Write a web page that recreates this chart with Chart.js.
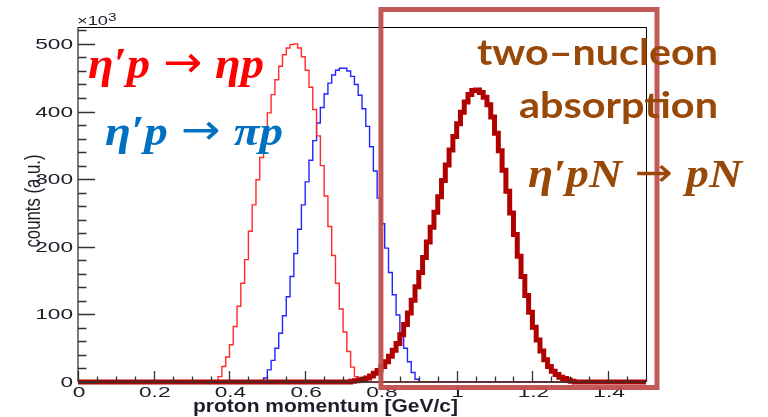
<!DOCTYPE html>
<html>
<head>
<meta charset="utf-8">
<script src="https://cdn.jsdelivr.net/npm/chart.js@4.4.1/dist/chart.umd.min.js"></script>
<style>
  html, body { margin: 0; padding: 0; background: #ffffff; }
  #wrap { width: 768px; height: 417px; position: relative; }
</style>
</head>
<body>
<div id="wrap"><canvas id="c" width="768" height="417"></canvas></div>
<script>
// Histogram binning (GeV/c) and axis ranges
const binWidth = 0.01;
const xMin = 0;
const xMax = 1.5;
const yMin = 0;
const yMax = 525;            // counts, in units of 10^3

const xMajorTicks = [0, 0.2, 0.4, 0.6, 0.8, 1.0, 1.2, 1.4];
const xTickLabels = ['0', '0.2', '0.4', '0.6', '0.8', '1', '1.2', '1.4'];
const xMinorStep = 0.05;
const yMajorTicks = [0, 100, 200, 300, 400, 500];
const yTickLabels = ['0', '100', '200', '300', '400', '500'];
const yMinorStep = 20;

// η'p → ηp : first bin lower edge and bin contents (x10^3)
const etaStart = 0.37;
const etaCounts = [8, 23, 37, 55, 82, 112, 146, 181, 223, 262, 299, 332, 363, 398, 425, 447, 467, 484, 494, 499,
                   500, 494, 481, 461, 436, 403, 364, 320, 275, 230, 187, 146, 108, 74, 45, 22, 8];

// η'p → πp
const piStart = 0.49;
const piCounts = [6, 18, 32, 50, 72, 98, 126, 156, 190, 226, 262, 296, 328, 357, 383, 406, 426, 442, 454, 461,
                  464, 464, 460, 452, 440, 424, 404, 378, 348, 312, 272, 234, 198, 162, 129, 99, 73, 50, 30, 14, 4];

// η'pN → pN (two-nucleon absorption)
const nnStart = 0.72;
const nnCounts = [1, 2, 3, 4, 6, 9, 13, 17, 23, 30, 38, 47, 57, 70, 85, 102, 121, 141, 162, 184,
                  207, 229, 251, 274, 298, 321, 343, 363, 382, 399, 414, 425, 431, 432, 428, 421, 410, 392, 368, 342,
                  313, 282, 250, 218, 186, 156, 128, 103, 81, 62, 46, 33, 23, 16, 11, 7, 5, 3, 1];

// Full-range step points: one point per bin lower edge, plus the closing edge
function histPoints(start, counts) {
  const nBins = Math.round((xMax - xMin) / binWidth);
  const first = Math.round((start - xMin) / binWidth);
  const pts = [];
  for (let i = 0; i < nBins; i++) {
    const k = i - first;
    const v = (k >= 0 && k < counts.length) ? counts[k] : 0;
    pts.push({ x: +(xMin + i * binWidth).toFixed(4), y: v });
  }
  pts.push({ x: xMax, y: 0 });
  return pts;
}

const AXIS_FONT = '"Liberation Sans", Arial, Helvetica, sans-serif';
const MATH_FONT = '"Liberation Serif", "DejaVu Serif", serif';
const NOTE_FONT = 'Lato, "Open Sans", sans-serif';
const BROWN = '#984807';
const AXIS_TEXT = '#1e1e2a';

// Draw text that is stretched to a target width (or by a fixed factor)
function drawText(ctx, str, o) {
  ctx.save();
  ctx.font = o.font;
  ctx.fillStyle = o.color || AXIS_TEXT;
  ctx.textBaseline = o.baseline || 'alphabetic';
  const w = ctx.measureText(str).width;
  const sx = o.width ? o.width / w : (o.sx || 1);
  const sy = o.sy || 1;
  ctx.translate(o.x, o.y);
  if (o.rotate) ctx.rotate(o.rotate);
  ctx.scale(sx, sy);
  let dx = 0;
  if (o.align === 'center') dx = -w / 2;
  else if (o.align === 'right') dx = -w;
  ctx.textAlign = 'left';
  ctx.fillText(str, dx, 0);
  ctx.restore();
}

// Reaction label: italic math letters with an upright arrow in the middle
function drawReaction(ctx, lhs, rhs, o) {
  ctx.save();
  const mathFont = o.weight + ' italic ' + o.size + 'px ' + MATH_FONT;
  const arrowFont = o.size + 'px "DejaVu Sans", sans-serif';
  const gap = o.size * 0.28;
  ctx.font = mathFont;
  const wl = ctx.measureText(lhs).width;
  const wr = ctx.measureText(rhs).width;
  ctx.font = arrowFont;
  const wa = ctx.measureText('\u2192').width;
  const total = wl + gap + wa + gap + wr;
  const sx = o.width / total;
  ctx.translate(o.x, o.y);
  ctx.scale(sx, 1);
  ctx.fillStyle = o.color;
  ctx.textBaseline = 'alphabetic';
  ctx.font = mathFont;
  ctx.fillText(lhs, 0, 0);
  ctx.fillText(rhs, wl + gap + wa + gap, 0);
  ctx.font = arrowFont;
  ctx.fillText('\u2192', wl + gap, -o.size * 0.02);
  ctx.restore();
}

const framePlugin = {
  id: 'rootFrame',
  beforeDatasetsDraw(chart) {
    const { ctx, chartArea: a } = chart;
    ctx.save();
    ctx.strokeStyle = '#000';
    ctx.lineWidth = 1;
    ctx.beginPath();
    ctx.moveTo(a.left, a.top + 0.5);
    ctx.lineTo(a.right + 0.5, a.top + 0.5);
    ctx.lineTo(a.right + 0.5, a.bottom);
    ctx.stroke();
    ctx.restore();
  },
  afterDatasetsDraw(chart) {
    const { ctx, chartArea: a, scales } = chart;
    const xs = scales.x, ys = scales.y;
    ctx.save();
    ctx.strokeStyle = '#333';
    ctx.lineWidth = 1.3;
    // axis lines
    ctx.beginPath();
    ctx.moveTo(a.left, a.top);
    ctx.lineTo(a.left, a.bottom);
    ctx.moveTo(a.left, a.bottom);
    ctx.lineTo(a.right, a.bottom);
    ctx.stroke();
    // y ticks (pointing inward)
    const yMajLen = 17, yMinLen = 8.5;
    ctx.beginPath();
    for (let v = yMin; v <= yMax + 1e-9; v += yMinorStep) {
      const py = Math.round(ys.getPixelForValue(v)) + 0.5;
      const major = yMajorTicks.includes(v);
      ctx.moveTo(a.left, py);
      ctx.lineTo(a.left + (major ? yMajLen : yMinLen), py);
    }
    // x ticks
    const xMajLen = 11, xMinLen = 5.5;
    const nMinor = Math.round((xMax - xMin) / xMinorStep);
    for (let i = 0; i <= nMinor; i++) {
      const v = +(xMin + i * xMinorStep).toFixed(4);
      const px = Math.round(xs.getPixelForValue(v)) + 0.5;
      const major = xMajorTicks.some(t => Math.abs(t - v) < 1e-6);
      ctx.moveTo(px, a.bottom);
      ctx.lineTo(px, a.bottom - (major ? xMajLen : xMinLen));
    }
    ctx.stroke();
    ctx.restore();

    // tick labels
    const tickFont = '14px ' + AXIS_FONT;
    yMajorTicks.forEach((v, i) => {
      drawText(ctx, yTickLabels[i], { font: tickFont, x: a.left - 5, y: ys.getPixelForValue(v) + 5, align: 'right', sx: 1.62 });
    });
    xMajorTicks.forEach((v, i) => {
      drawText(ctx, xTickLabels[i], { font: tickFont, x: xs.getPixelForValue(v) + 1, y: a.bottom + 15, align: 'center', sx: 1.62 });
    });
    // exponent
    drawText(ctx, '\u00d710', { font: '13px ' + AXIS_FONT, x: a.left - 1, y: a.top - 2, sx: 1.4 });
    drawText(ctx, '3', { font: '11px ' + AXIS_FONT, x: a.left + 30, y: a.top - 6, sx: 1.4 });
    // axis titles
    drawText(ctx, 'proton momentum [GeV/c]', { font: 'bold 18px ' + AXIS_FONT, x: 193, y: a.bottom + 30, width: 265 });
    drawText(ctx, 'counts (a.u.)', { font: '17px ' + AXIS_FONT, x: 34, y: 201, align: 'center', baseline: 'middle', width: 93, sy: 1.25, rotate: -Math.PI / 2 });
  },
  afterDraw(chart) {
    const { ctx, chartArea: a, scales } = chart;
    // highlight box around the two-nucleon region
    const left = scales.x.getPixelForValue(0.8);
    ctx.save();
    ctx.strokeStyle = 'rgba(192, 80, 77, 0.95)';
    ctx.lineWidth = 5;
    ctx.lineJoin = 'miter';
    ctx.strokeRect(left, a.top - 17.5, (a.right + 11) - left, (a.bottom + 5.5) - (a.top - 17.5));
    ctx.restore();

    // reaction labels
    drawReaction(ctx, '\u03b7\u2032p', '\u03b7p', { weight: 'bold', size: 44, color: '#ff0000', x: 88, y: 78, width: 176 });
    drawReaction(ctx, '\u03b7\u2032p', '\u03c0p', { weight: 'bold', size: 42, color: '#0070c0', x: 105, y: 145, width: 178 });
    drawText(ctx, 'two\u2013nucleon', { font: 'bold 37px ' + NOTE_FONT, color: BROWN, x: 477, y: 65, width: 241 });
    drawText(ctx, 'absorption', { font: 'bold 37px ' + NOTE_FONT, color: BROWN, x: 519, y: 118, width: 199 });
    drawReaction(ctx, '\u03b7\u2032pN', 'pN', { weight: 'bold', size: 40, color: BROWN, x: 528, y: 187, width: 214 });
  }
};

const chart = new Chart(document.getElementById('c'), {
  type: 'line',
  data: {
    datasets: [
      {
        label: "\u03b7'pN \u2192 pN",
        data: histPoints(nnStart, nnCounts),
        borderColor: '#b00000',
        borderWidth: 5,
        order: 0
      },
      {
        label: "\u03b7'p \u2192 \u03b7p",
        data: histPoints(etaStart, etaCounts),
        borderColor: '#ff2a2a',
        borderWidth: 1.4,
        order: 1
      },
      {
        label: "\u03b7'p \u2192 \u03c0p",
        data: histPoints(piStart, piCounts),
        borderColor: '#2424ff',
        borderWidth: 1.4,
        order: 2
      }
    ]
  },
  options: {
    responsive: false,
    animation: false,
    devicePixelRatio: 1,
    parsing: false,
    layout: { padding: { left: 78, right: 122, top: 27, bottom: 35 } },
    elements: {
      line: { stepped: true, tension: 0, fill: false, borderJoinStyle: 'miter', borderCapStyle: 'butt' },
      point: { radius: 0, hoverRadius: 0 }
    },
    datasets: { line: { clip: false } },
    plugins: { legend: { display: false }, tooltip: { enabled: false } },
    events: [],
    scales: {
      x: { type: 'linear', min: xMin, max: xMax, display: false },
      y: { type: 'linear', min: yMin, max: yMax, display: false }
    }
  },
  plugins: [framePlugin]
});
</script>
</body>
</html>
